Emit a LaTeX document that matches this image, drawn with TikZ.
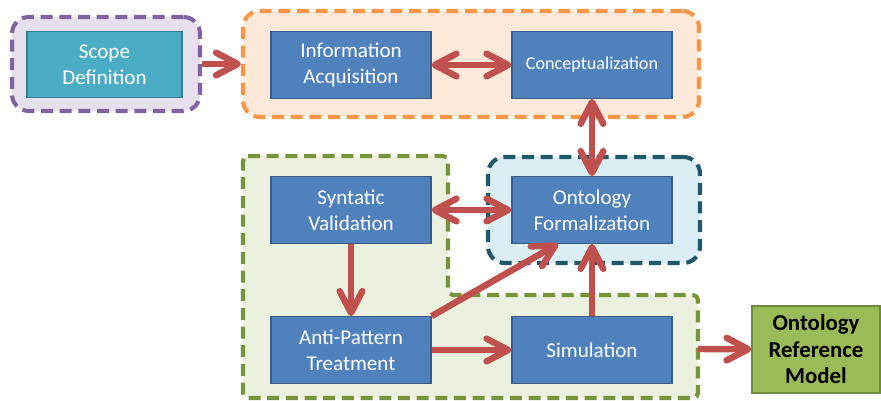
\documentclass[tikz,border=0pt]{standalone}
\usepackage{fontspec}
\setmainfont{Carlito}
\usetikzlibrary{arrows.meta}

\definecolor{boxblue}{HTML}{4F81BD}
\definecolor{boxedge}{HTML}{385D8A}
\definecolor{scopefill}{HTML}{4BACC6}
\definecolor{scopeedge}{HTML}{357D91}
\definecolor{arrowred}{HTML}{C0504D}
\definecolor{purpleline}{HTML}{8064A2}
\definecolor{purplefill}{HTML}{E5E0EC}
\definecolor{orangeline}{HTML}{F79646}
\definecolor{orangefill}{HTML}{FDE9D9}
\definecolor{tealline}{HTML}{215968}
\definecolor{tealfill}{HTML}{DBEEF4}
\definecolor{greenline}{HTML}{77933C}
\definecolor{greenfill}{HTML}{EBF1DE}
\definecolor{modelfill}{HTML}{9BBB59}
\definecolor{modeledge}{HTML}{71893F}

\tikzset{
	task/.style={rectangle, draw=boxedge, fill=boxblue, line width=1pt,
		minimum width=4.8cm, minimum height=2cm, text=white, align=center,
		font=\fontsize{18}{22}\selectfont},
	phase/.style={rectangle, rounded corners=0.5cm, line width=3.5pt,
		dash pattern=on 0.36cm off 0.2cm, inner sep=0pt},
	barb/.tip={Straight Barb[round,length=6.5mm,width=6.8mm]},
	flow/.style={draw=arrowred, line width=5.5pt, -barb},
	twoway/.style={draw=arrowred, line width=5.5pt, barb-barb},
}

\begin{document}
\begin{tikzpicture}[x=0.03cm, y=-0.03cm]
	\useasboundingbox (0,0) rectangle (881,401);

	% dashed phase groups
	\draw[phase, draw=greenline, fill=greenfill, rounded corners=0.15cm]
		(243,156) -- (448,156) -- (448,295) -- (698,295) -- (698,398) -- (243,398) -- cycle;
	\coordinate (grnedge) at (698,349);
	\node[phase, draw=purpleline, fill=purplefill, minimum width=5.64cm, minimum height=2.82cm] (scopegrp) at (106,64) {};
	\node[phase, draw=orangeline, fill=orangefill, minimum width=13.68cm, minimum height=3.18cm] (acqgrp) at (471,64) {};
	\node[phase, draw=tealline, fill=tealfill, minimum width=6.36cm, minimum height=3.18cm] (formgrp) at (594,210) {};

	% activities
	\node[task, draw=scopeedge, fill=scopefill, minimum width=4.65cm] (scope) at (104.5,64.5) {Scope\\Definition};
	\node[task] (acq) at (351,65) {Information\\Acquisition};
	\node[task, font=\fontsize{15.5}{19}\selectfont] (concept) at (592,65) {Conceptualization};
	\node[task] (form) at (592,210) {Ontology\\Formalization};
	\node[task] (syntax) at (351,210) {Syntatic\\Validation};
	\node[task] (anti) at (351,350) {Anti-Pattern\\Treatment};
	\node[task] (sim) at (592,350) {Simulation};
	\node[task, draw=modeledge, fill=modelfill, text=black, minimum width=3.84cm, minimum height=2.61cm,
		font=\fontsize{19.5}{22.6}\selectfont\bfseries] (model) at (816,349.5) {Ontology\\Reference\\Model};

	% flows
	\draw[flow] (scopegrp.east) -- (scopegrp.east -| acqgrp.west);
	\draw[twoway] (acq) -- (concept);
	\draw[twoway] (concept) -- (form);
	\draw[twoway] (syntax) -- (form);
	\draw[flow] (syntax) -- (anti);
	\draw[flow] (anti.north east) -- ([xshift=1.4cm]form.south west);
	\draw[flow] (anti) -- (sim);
	\draw[flow] (sim) -- (form);
	\draw[flow] (grnedge) -- (model);
\end{tikzpicture}
\end{document}
